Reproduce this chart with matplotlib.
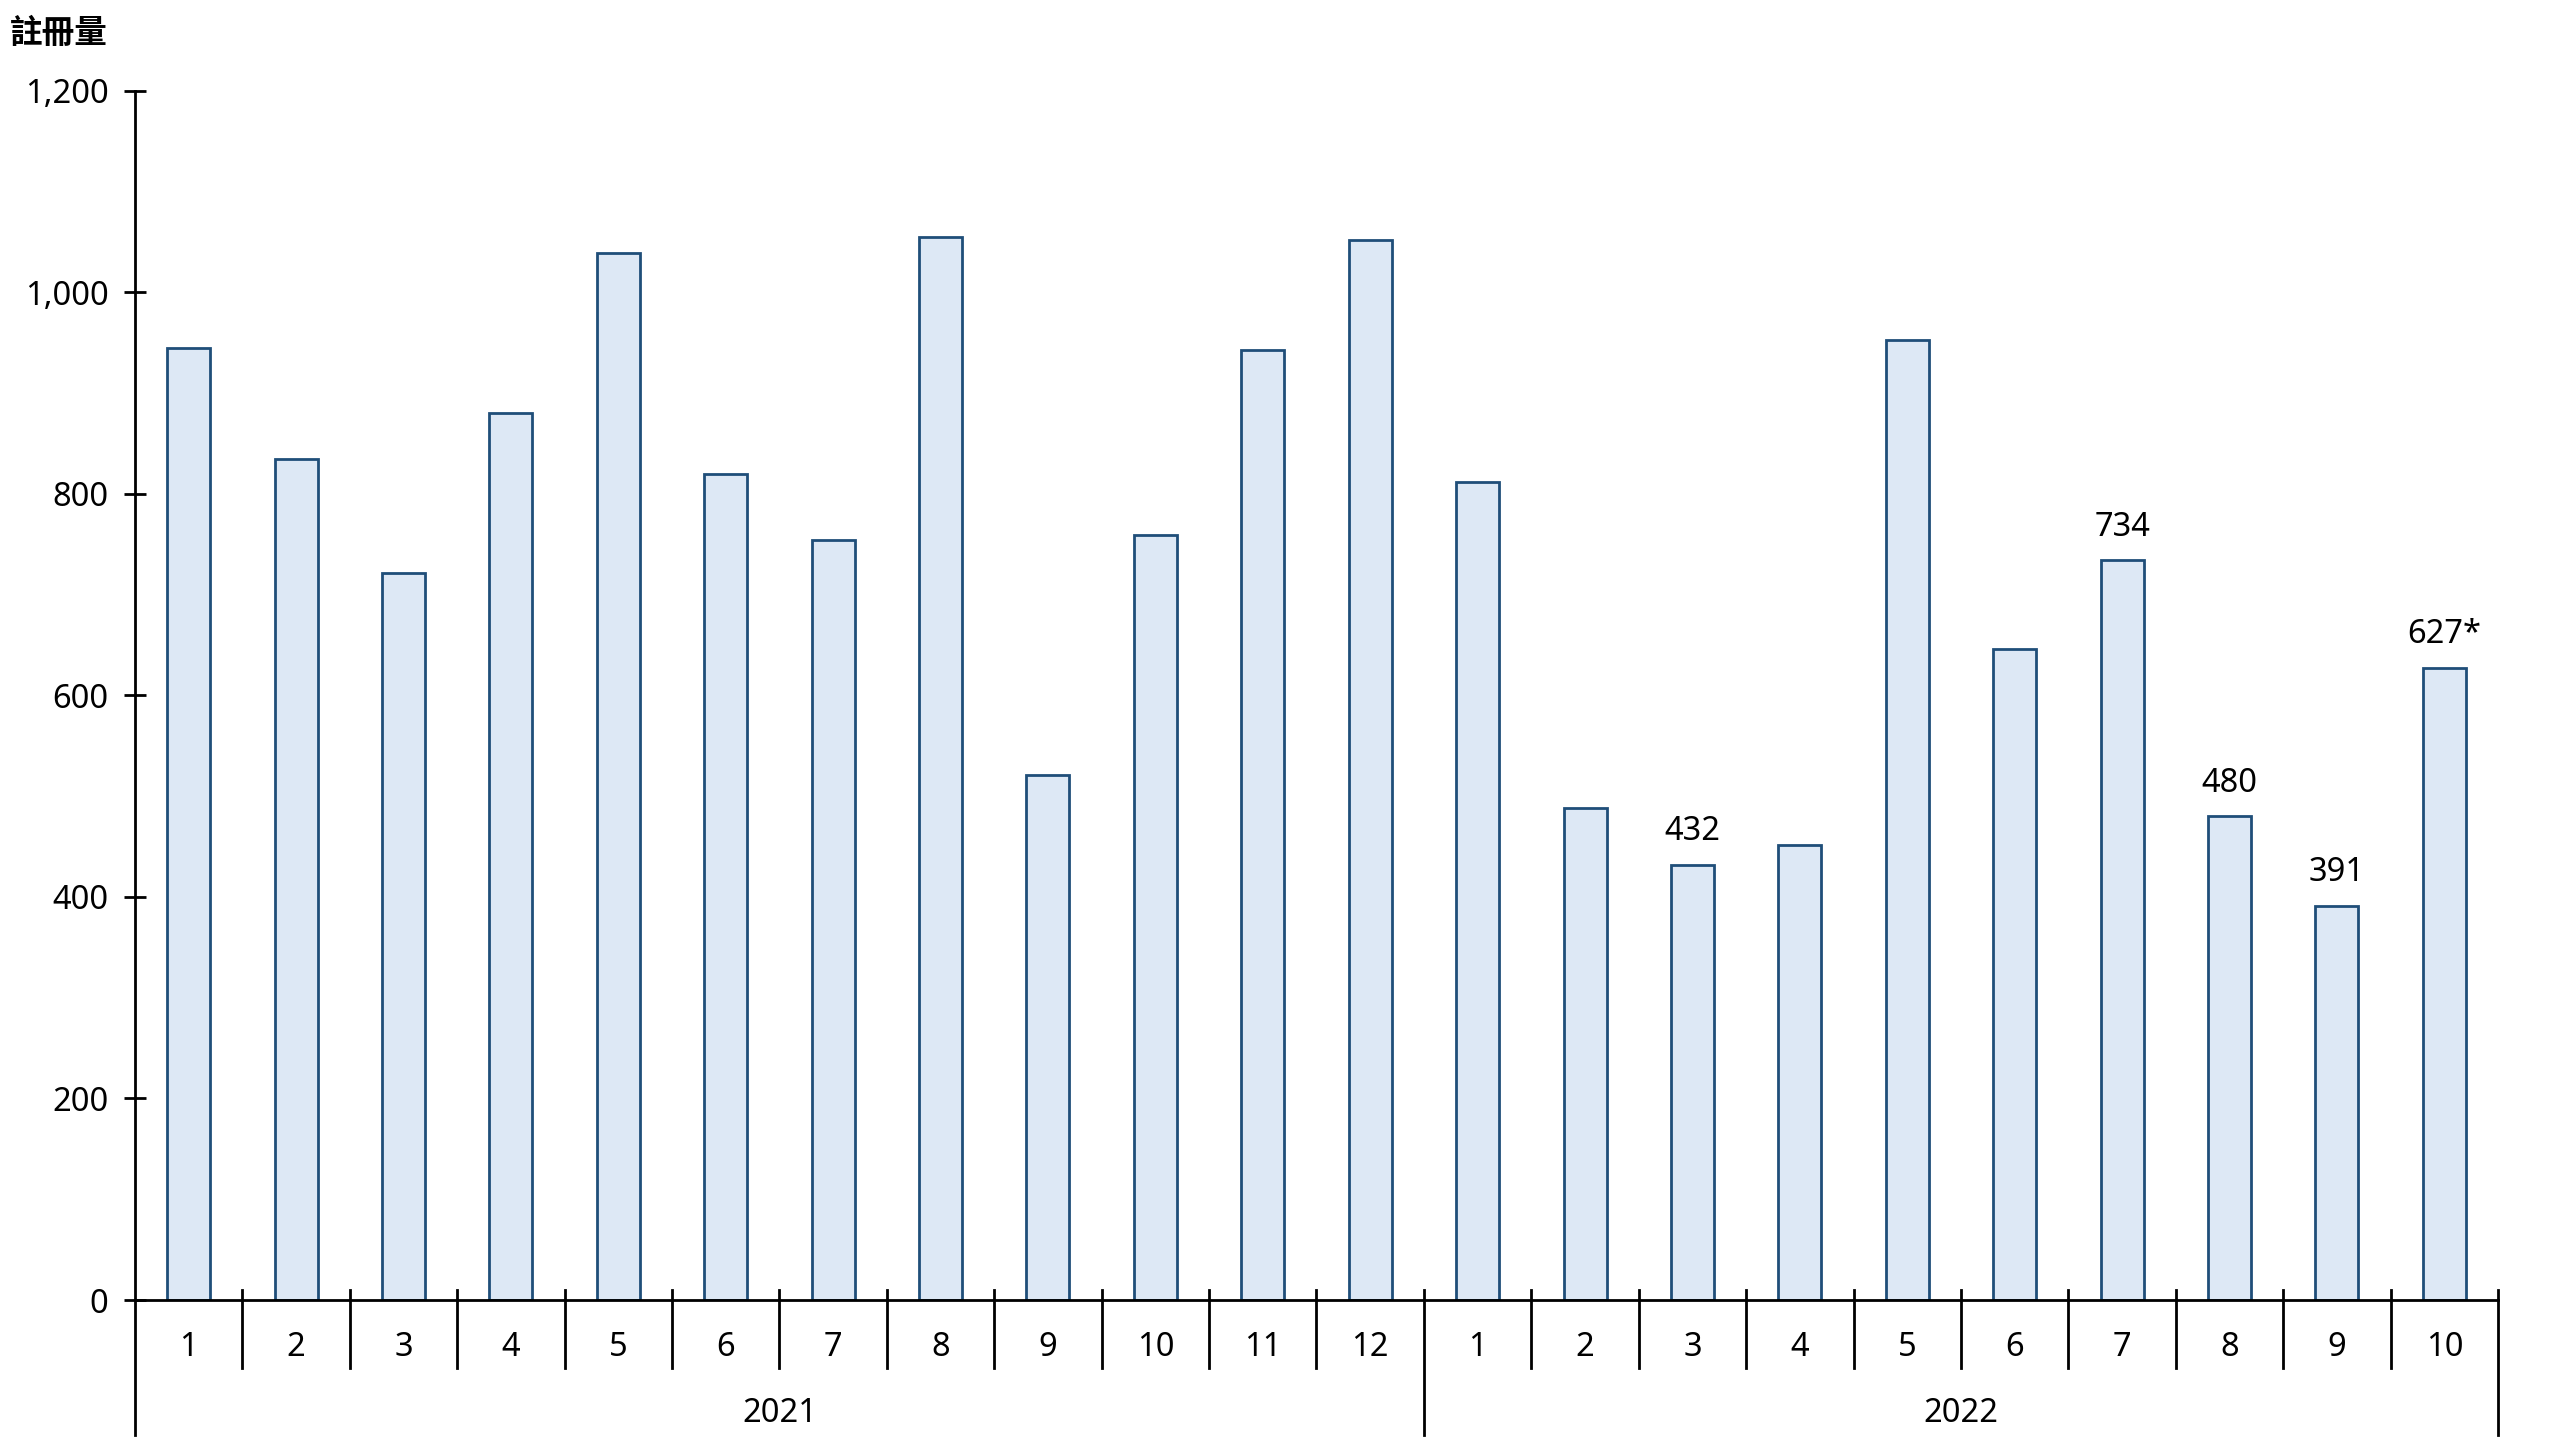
import matplotlib
matplotlib.use("Agg")
import matplotlib.pyplot as plt
import matplotlib.transforms as mtransforms

plt.rcParams['font.family'] = ['Noto Sans', 'Noto Sans CJK TC', 'DejaVu Sans']

years = ["2021", "2022"]
months_2021 = [str(m) for m in range(1, 13)]
months_2022 = [str(m) for m in range(1, 11)]
values_2021 = [945, 835, 721, 880, 1039, 820, 754, 1055, 521, 759, 943, 1052]
values_2022 = [812, 488, 432, 452, 953, 646, 734, 480, 391, 627]
labelled = {2: "432", 6: "734", 7: "480", 8: "391", 9: "627*"}  # index within 2022
y_ticks = [0, 200, 400, 600, 800, 1000, 1200]
y_label = "註冊量"

fill = "#DDE8F5"
edge = "#1F4E79"

months = months_2021 + months_2022
values = values_2021 + values_2022
n = len(values)
xs = list(range(n))

fig = plt.figure(figsize=(25.6, 14.4), dpi=100)
ax = fig.add_axes([0.0527, 0.0972, 0.9231, 0.8398])
ax.bar(xs, values, width=0.4, color=fill, edgecolor=edge, linewidth=2)

ax.set_xlim(-0.5, n - 0.5)
ax.set_ylim(0, 1200)
ax.set_yticks(y_ticks)
ax.set_yticklabels([f"{v:,}" for v in y_ticks])
ax.tick_params(axis='y', direction='inout', length=16, width=2, labelsize=23.5, pad=11)
ax.set_xticks([])
for s in ['top', 'right']:
    ax.spines[s].set_visible(False)
ax.spines['left'].set_linewidth(2)
ax.spines['bottom'].set_linewidth(2)

trans = mtransforms.blended_transform_factory(ax.transData, ax.transAxes)
# month separators
n21 = len(values_2021)
for i in range(n - 1):
    x = i + 0.5
    if i == n21 - 1:
        continue
    ax.plot([x, x], [0.0083, -0.0562], color='black', lw=2, transform=trans, clip_on=False)
# year separators
for x in [-0.5, n21 - 0.5, n - 0.5]:
    top = 0.0 if x == -0.5 else 0.0083
    ax.plot([x, x], [top, -0.1116], color='black', lw=2, transform=trans, clip_on=False)

for x, m in zip(xs, months):
    ax.text(x, -0.0389, m, transform=trans, ha='center', va='center', fontsize=23.5)

ax.text((n21 - 1) / 2, -0.094, years[0], transform=trans, ha='center', va='center', fontsize=23.5)
ax.text(n21 + (len(values_2022) - 1) / 2, -0.094, years[1], transform=trans, ha='center', va='center', fontsize=23.5)

for i, txt in labelled.items():
    x = n21 + i
    ax.annotate(txt, (x, values[x]), xytext=(0, 12), textcoords='offset points',
                ha='center', va='bottom', fontsize=23.5)

fig.text(0.004, 0.977, y_label, fontsize=23.5, fontweight='bold', ha='left', va='center',
         family=['Noto Sans CJK TC'])

fig.savefig("out.png", dpi=100)
